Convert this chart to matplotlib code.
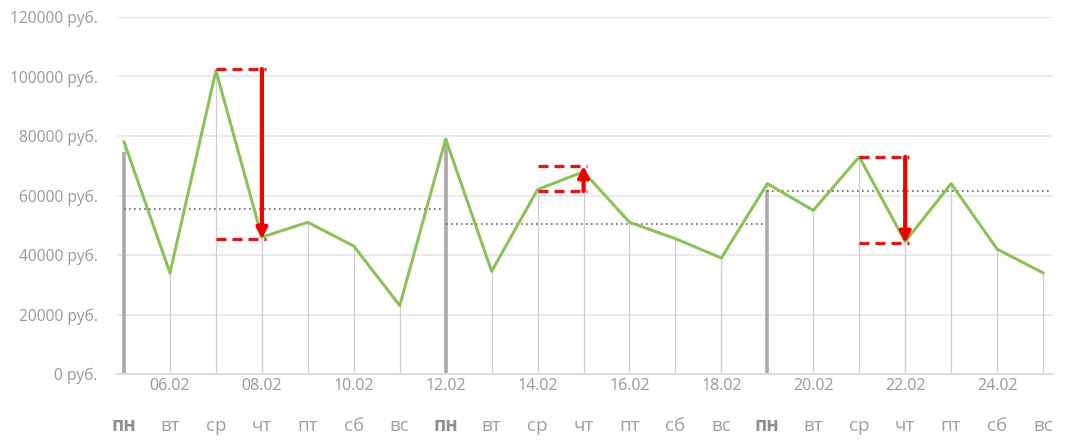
import numpy as np
import matplotlib
matplotlib.use('Agg')
from matplotlib import pyplot as plt
from matplotlib.ticker import FuncFormatter

plt.rcParams['font.family'] = ['Open Sans', 'DejaVu Sans']

# данные: выручка по дням 05.02 - 25.02
dates = ['05.02', '06.02', '07.02', '08.02', '09.02', '10.02', '11.02',
         '12.02', '13.02', '14.02', '15.02', '16.02', '17.02', '18.02',
         '19.02', '20.02', '21.02', '22.02', '23.02', '24.02', '25.02']
weekdays = ['пн', 'вт', 'ср', 'чт', 'пт', 'сб', 'вс'] * 3
sales = [78000, 34000, 102000, 46000, 51000, 43000, 23000,
         79000, 34500, 62000, 68000, 51000, 45500, 39000,
         64000, 55000, 73000, 44500, 64000, 42000, 34000]

# недели: начало (индекс), среднее (пунктир), высота серой линии понедельника
week_start = [0, 7, 14]
week_avg = [55300, 50500, 61500]
monday_bar = [74500, 79000, 62000]

# красные стрелки: (день откуда, день куда, значение от, значение до)
jumps = [(2, 3, 102500, 45300),
         (9, 10, 61500, 70000),
         (16, 17, 73000, 44000)]

x = np.arange(len(sales))
grey = '#999999'

fig = plt.figure(figsize=(10.65, 4.46), dpi=100)
ax = fig.add_axes([0.110, 0.1614, 0.878, 0.8005])

ax.set_ylim(0, 120000)
ax.set_xlim(-0.15, 20.2)
ax.set_yticks(np.arange(0, 120001, 20000))
ax.yaxis.set_major_formatter(FuncFormatter(lambda v, p: f'{int(v)} руб.'))
ax.grid(axis='y', color='#e6e6e6', linewidth=1.2)
ax.set_axisbelow(True)
for s in ['top', 'right', 'left']:
    ax.spines[s].set_visible(False)
ax.spines['bottom'].set_color('#d8dce3')
ax.spines['bottom'].set_linewidth(1.5)
ax.tick_params(axis='y', length=0, pad=14, labelsize=11.2, labelcolor=grey)
ax.tick_params(axis='x', length=0, pad=3, labelsize=11.5, labelcolor=grey)

# даты через одну
ax.set_xticks(x[1::2])
ax.set_xticklabels(dates[1::2])

# дни недели
for i, d in enumerate(weekdays):
    bold = d == 'пн'
    ax.text(x[i], -0.145, d, transform=ax.get_xaxis_transform(),
            ha='center', va='center', fontsize=13.5,
            color='#909090' if bold else '#a0a0a0',
            fontweight='bold' if bold else 'normal')

# тонкие вертикальные линии до значения
ax.vlines(x, 0, sales, color='#cfcfcf', linewidth=0.9, zorder=1)

# понедельники и средние за неделю
for k, s0 in enumerate(week_start):
    ax.vlines(x[s0], 0, monday_bar[k], color='#aaaaaa', linewidth=2.6, zorder=2)
    ax.hlines(week_avg[k], x[s0], x[s0] + 7, color='#666666', linewidth=1.2,
              linestyles=(0, (1, 2)), zorder=2)

ax.plot(x, sales, color='#8cc257', linewidth=2.2, zorder=3)

# красные скачки
for a, b, v0, v1 in jumps:
    ax.hlines([v0, v1], x[a], x[b] + 0.08, color='#d41b1b', linewidth=2.4,
              linestyles=(0, (3, 1.8)), zorder=4)
    ax.annotate('', xy=(x[b], v1), xytext=(x[b], v0),
                arrowprops=dict(arrowstyle='-|>', color='#ee0000', lw=3,
                                mutation_scale=16, shrinkA=0, shrinkB=0),
                zorder=5)

plt.savefig('out.png', dpi=100)
